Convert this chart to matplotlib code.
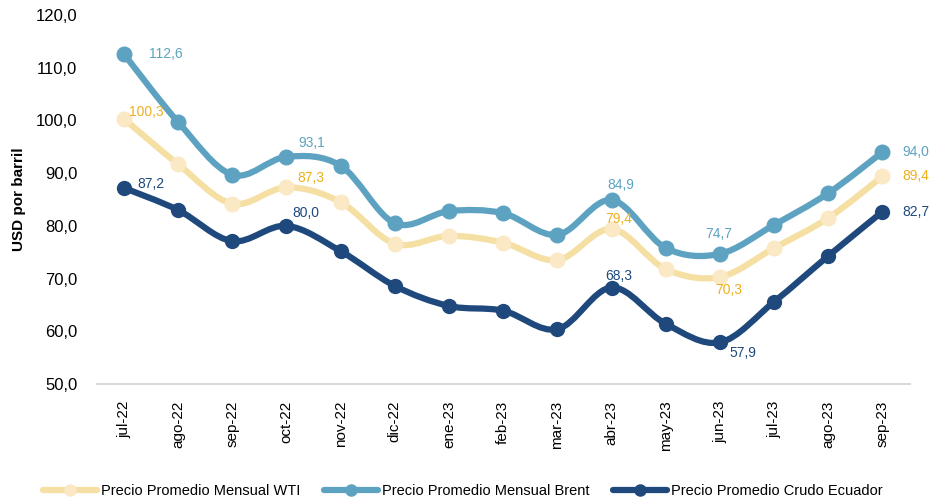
import matplotlib
matplotlib.use('Agg')
import matplotlib.pyplot as plt
from matplotlib.path import Path
from matplotlib.patches import PathPatch
from matplotlib.lines import Line2D
from matplotlib.ticker import FuncFormatter

# === Data ===
months = ["jul-22", "ago-22", "sep-22", "oct-22", "nov-22", "dic-22", "ene-23", "feb-23",
          "mar-23", "abr-23", "may-23", "jun-23", "jul-23", "ago-23", "sep-23"]
wti = [100.3, 91.7, 84.2, 87.3, 84.5, 76.6, 78.1, 76.8, 73.5, 79.4, 71.8, 70.3, 75.8, 81.5, 89.4]
brent = [112.6, 99.7, 89.7, 93.1, 91.4, 80.5, 82.8, 82.4, 78.3, 84.9, 75.8, 74.7, 80.2, 86.2, 94.0]
ecuador = [87.2, 83.0, 77.1, 80.0, 75.2, 68.6, 64.8, 63.9, 60.4, 68.3, 61.4, 57.9, 65.6, 74.3, 82.7]

FONT = "Liberation Sans"
plt.rcParams['font.family'] = [FONT, 'DejaVu Sans']

C_WTI, C_WTI_MK, C_WTI_TXT = "#F5DFA3", "#FBE9C6", "#EDB01E"
C_BRENT = "#5DA3C1"
C_ECU = "#1F497D"

# label placement per labelled month: (dx pt, dy pt, ha)
lab_brent = {0: (18, 0, 'left'), 3: (8.5, 10, 'left'), 9: (6.5, 11, 'center'),
             11: (-1, 14, 'center'), 14: (14, 0, 'left')}
lab_wti = {0: (3.6, 5, 'left'), 3: (8, 6.5, 'left'), 9: (5, 7, 'center'),
           11: (6.5, -9.4, 'center'), 14: (14, 0, 'left')}
lab_ecu = {0: (10, 3, 'left'), 3: (4.3, 9, 'left'), 9: (5, 8.6, 'center'),
           11: (16.5, -8, 'center'), 14: (14, 0, 'left')}


def smooth_path(xs, ys):
    # Excel-style smoothed line as cubic bezier through the data points
    pts = list(zip(xs, ys))
    n = len(pts)
    verts = [pts[0]]
    codes = [Path.MOVETO]
    for i in range(n - 1):
        p0 = pts[i - 1] if i > 0 else pts[i]
        p1 = pts[i]
        p2 = pts[i + 1]
        p3 = pts[i + 2] if i + 2 < n else pts[i + 1]
        c1 = (p1[0] + (p2[0] - p0[0]) / 6, p1[1] + (p2[1] - p0[1]) / 6)
        c2 = (p2[0] - (p3[0] - p1[0]) / 6, p2[1] - (p3[1] - p1[1]) / 6)
        verts += [c1, c2, p2]
        codes += [Path.CURVE4] * 3
    return Path(verts, codes)


fig = plt.figure(figsize=(9.31, 5.0), dpi=100)
ax = fig.add_axes([0.104, 0.232, 0.873, 0.738])

x = list(range(len(months)))
series = [
    (wti, C_WTI, C_WTI_MK, 10.5, "Precio Promedio Mensual WTI"),
    (brent, C_BRENT, C_BRENT, 10.5, "Precio Promedio Mensual Brent"),
    (ecuador, C_ECU, C_ECU, 10.0, "Precio Promedio Crudo Ecuador"),
]
handles = []
for vals, lc, mc, ms, name in series:
    ax.add_patch(PathPatch(smooth_path(x, vals), facecolor='none', edgecolor=lc,
                           lw=4.5, capstyle='round', joinstyle='round', zorder=2))
    ax.plot(x, vals, ls='none', marker='o', ms=ms, color=mc, mec=mc, zorder=3)
    handles.append(Line2D([], [], color=lc, lw=4.5, marker='o', ms=8, mfc=mc, mec=mc,
                          solid_capstyle='round'))

# === Data labels ===
for vals, col, offs in [(brent, C_BRENT, lab_brent), (wti, C_WTI_TXT, lab_wti),
                        (ecuador, C_ECU, lab_ecu)]:
    for i, (dx, dy, ha) in offs.items():
        ax.annotate(f"{vals[i]:.1f}".replace('.', ','), (x[i], vals[i]),
                    xytext=(dx, dy), textcoords='offset points', ha=ha, va='center',
                    fontsize=10, color=col, zorder=4)

# === Axes styling ===
ax.set_xlim(-0.5, len(months) - 0.5)
ax.set_ylim(50, 120)
ax.set_yticks(range(50, 121, 10))
ax.yaxis.set_major_formatter(FuncFormatter(lambda v, p: f"{v:.1f}".replace('.', ',')))
ax.set_xticks(x)
ax.set_xticklabels(months, rotation=90, fontsize=11)
ax.tick_params(axis='x', length=0, pad=12)
ax.tick_params(axis='y', length=0, pad=14, labelsize=12)
for s in ['top', 'right', 'left']:
    ax.spines[s].set_visible(False)
ax.spines['bottom'].set_color('#d9d9d9')
ax.spines['bottom'].set_linewidth(1.5)
ax.set_ylabel('USD por barril', fontsize=11, fontweight='bold', labelpad=7)

fig.legend(handles, [s[4] for s in series], loc='lower center', ncol=3,
           bbox_to_anchor=(0.497, -0.022), frameon=False, fontsize=10.5,
           handlelength=3.7, handletextpad=0.3, columnspacing=1.6)

plt.savefig('out.png', dpi=100)
plt.close(fig)
